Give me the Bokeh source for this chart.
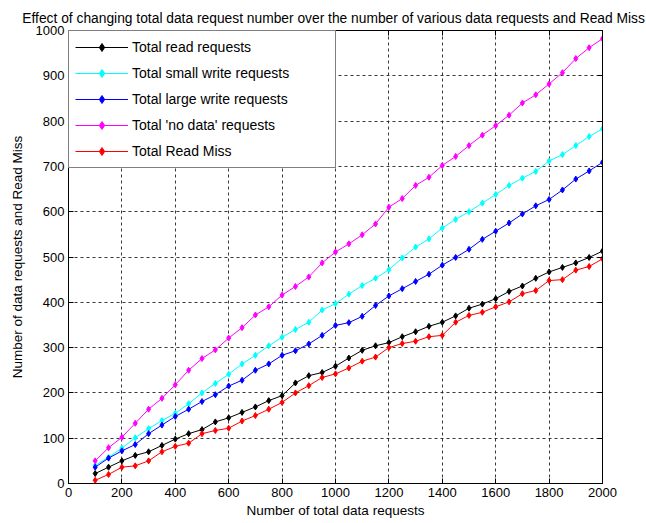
from bokeh.plotting import figure
from bokeh.models import Range1d, LinearAxis, Legend, LegendItem, FixedTicker
from bokeh.embed import file_html
from bokeh.resources import INLINE

total_requests = [100, 150, 200, 250, 300, 350, 400, 450, 500, 550, 600, 650, 700,
                  750, 800, 850, 900, 950, 1000, 1050, 1100, 1150, 1200, 1250, 1300,
                  1350, 1400, 1450, 1500, 1550, 1600, 1650, 1700, 1750, 1800, 1850,
                  1900, 1950, 2000]

read_requests = [22, 36, 50, 62, 70, 84, 98, 110, 119, 136, 145, 157, 169, 183, 194,
                 222, 238, 245, 259, 277, 294, 304, 311, 324, 335, 347, 356, 370, 387,
                 396, 408, 424, 436, 453, 467, 477, 487, 499, 513]
small_write = [40, 58, 78, 101, 121, 139, 155, 176, 200, 221, 241, 264, 283, 304, 323,
               340, 356, 383, 397, 418, 437, 453, 472, 498, 522, 540, 564, 583, 600,
               619, 638, 658, 674, 689, 712, 726, 746, 766, 783]
large_write = [36, 56, 72, 86, 110, 129, 148, 164, 181, 196, 215, 228, 250, 264, 283,
               293, 308, 327, 349, 355, 369, 393, 414, 430, 446, 462, 482, 499, 517,
               539, 557, 575, 595, 613, 627, 648, 672, 690, 709]
no_data = [50, 79, 102, 133, 164, 188, 218, 250, 276, 295, 321, 344, 372, 390, 416,
           435, 456, 487, 511, 529, 549, 573, 610, 629, 658, 676, 702, 722, 746, 769,
           790, 813, 840, 858, 882, 907, 938, 962, 982]
read_miss = [7, 20, 36, 39, 50, 70, 82, 89, 110, 117, 122, 138, 150, 164, 179, 200,
             216, 234, 242, 255, 270, 279, 300, 309, 314, 324, 327, 356, 371, 378, 390,
             401, 419, 426, 448, 450, 471, 479, 496]

series_names = ["Total read requests", "Total small write requests",
                "Total large write requests", "Total 'no data' requests",
                "Total Read Miss"]
series_values = [read_requests, small_write, large_write, no_data, read_miss]
series_colors = ["#000000", "#00FFFF", "#0000FF", "#FF00FF", "#FF0000"]

x_ticks = [0, 200, 400, 600, 800, 1000, 1200, 1400, 1600, 1800, 2000]
y_ticks = [0, 100, 200, 300, 400, 500, 600, 700, 800, 900, 1000]

FONT = "Liberation Sans"

p = figure(width=646, height=523, output_backend="svg", toolbar_location=None,
           x_range=Range1d(0, 2000), y_range=Range1d(0, 1000),
           min_border_left=68, min_border_right=44, min_border_top=30,
           min_border_bottom=40, x_axis_label="Number of total data requests",
           y_axis_label="Number of data requests and Read Miss")
p.background_fill_color = "white"
p.border_fill_color = "white"
p.outline_line_color = "black"
p.outline_line_width = 1

p.title.text = "Effect of changing total data request number over the number of  various data requests and Read Miss"
p.title.align = "center"
p.title.text_font = FONT
p.title.text_font_size = "13.8px"
p.title.text_font_style = "normal"
p.title.text_color = "black"
p.title.offset = 0
p.title.standoff = 9

for ax in (p.xaxis[0], p.yaxis[0]):
    ax.axis_label_text_font = FONT
    ax.axis_label_text_font_size = "13.5px"
    ax.axis_label_text_font_style = "normal"
    ax.axis_label_text_color = "black"
    ax.major_label_text_font = FONT
    ax.major_label_text_font_size = "13px"
    ax.major_label_text_color = "black"
    ax.major_tick_in = 5
    ax.major_tick_out = 0
    ax.minor_tick_line_color = None
    ax.axis_line_color = "black"
    ax.major_tick_line_color = "black"
p.xaxis[0].ticker = FixedTicker(ticks=x_ticks)
p.yaxis[0].ticker = FixedTicker(ticks=y_ticks)
p.xaxis[0].major_label_standoff = 4
p.yaxis[0].major_label_standoff = 4
p.xaxis[0].axis_label_standoff = 3
p.yaxis[0].axis_label_standoff = 8

for loc, ticks in (("right", y_ticks), ("above", x_ticks)):
    a = LinearAxis(ticker=FixedTicker(ticks=ticks))
    a.major_label_overrides = {t: "" for t in ticks}
    a.major_label_standoff = 0
    a.major_tick_in = 5
    a.major_tick_out = 0
    a.minor_tick_line_color = None
    a.axis_line_color = "black"
    a.major_tick_line_color = "black"
    p.add_layout(a, loc)

p.xgrid[0].ticker = FixedTicker(ticks=x_ticks)
p.ygrid[0].ticker = FixedTicker(ticks=y_ticks)
p.grid.grid_line_color = "#222222"
p.grid.grid_line_dash = "3 3"
p.grid.grid_line_width = 1
p.grid.grid_line_alpha = 0.9

items = []
for name, vals, col in zip(series_names, series_values, series_colors):
    ln = p.line(total_requests, vals, line_color=col, line_width=1)
    mk = p.scatter(total_requests, vals, marker="diamond", size=6,
                   fill_color=col, line_color=col)
    items.append(LegendItem(label=name, renderers=[ln, mk]))

legend = Legend(items=items, location="top_left")
legend.margin = 0
legend.padding = 6
legend.spacing = 6
legend.glyph_width = 53
legend.glyph_height = 20
legend.label_standoff = 4
legend.label_width = 197
legend.label_text_font = FONT
legend.label_text_font_size = "14px"
legend.label_text_color = "black"
legend.border_line_color = "black"
legend.border_line_width = 1
legend.background_fill_color = "white"
legend.background_fill_alpha = 1
p.add_layout(legend, "center")

open("out.html", "w").write(file_html(p, INLINE))
